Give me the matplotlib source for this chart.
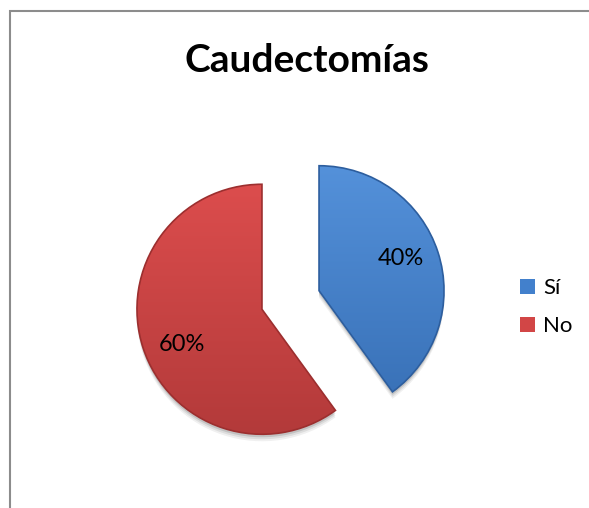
import numpy as np
import matplotlib
matplotlib.use("Agg")
import matplotlib.pyplot as plt
from matplotlib.patches import Rectangle, Wedge
from matplotlib.colors import LinearSegmentedColormap

# data
labels = ["Sí", "No"]
values = [40, 60]
colors = ["#4280cc", "#d24646"]
edge_colors = ["#2d5e9e", "#9c2f2f"]
grad_colors = [("#5491da", "#376fb5"), ("#dc4d4d", "#b33a3a")]

fig = plt.figure(figsize=(5.89, 5.08), dpi=100)
ax = fig.add_axes([0, 0, 1, 1])

# chart area border
fig.patches.append(Rectangle((10 / 589, -0.1), 1.2, (508 - 11) / 508 + 0.1,
                             transform=fig.transFigure, fill=False,
                             edgecolor="#8c8c8c", linewidth=1.5))

wedges, texts, autotexts = ax.pie(
    values, colors=colors, startangle=90, counterclock=False,
    center=(290.5, 208), radius=125, explode=[30, 30],
    autopct="%d%%", pctdistance=0.68,
    wedgeprops=dict(edgecolor="none"),
    textprops=dict(fontsize=17, family="Lato", color="black"),
    frame=True)

# soft shadow below the slices and gradient fill
for w, ec, (c1, c2) in zip(wedges, edge_colors, grad_colors):
    cx, cy = w.center
    for k, a in zip([7, 5, 3], [0.06, 0.08, 0.12]):
        sh = Wedge((cx, cy - k), w.r, w.theta1, w.theta2,
                   facecolor="black", alpha=a, edgecolor="none", zorder=0)
        ax.add_patch(sh)
    cmap = LinearSegmentedColormap.from_list("g", [c2, c1])
    grad = np.linspace(0, 1, 256).reshape(-1, 1)
    im = ax.imshow(grad, cmap=cmap, origin="lower", aspect="auto",
                   extent=(cx - w.r, cx + w.r, cy - w.r, cy + w.r), zorder=1)
    im.set_clip_path(w)
    w.set_zorder(1)
    edge = Wedge((cx, cy), w.r, w.theta1, w.theta2, facecolor="none",
                 edgecolor=ec, linewidth=1.2, zorder=2)
    ax.add_patch(edge)

# nudge the percentage labels like the original
for t, dy in zip(autotexts, [6, -9]):
    x, y = t.get_position()
    t.set_position((x + 1, y + dy))
    t.set_zorder(5)

ax.set_xlim(0, 589)
ax.set_ylim(0, 508)
ax.set_aspect("equal")
ax.axis("off")

fig.text(307 / 589, 1 - 60 / 508, "Caudectomías", ha="center", va="center",
         fontsize=28, fontweight="bold", family="Lato")

ax.legend(wedges, labels, loc="center left",
          bbox_to_anchor=(520 / 589, 1 - 307 / 508),
          frameon=False, prop=dict(family="Lato", size=16),
          handlelength=0.66, handleheight=0.66, handletextpad=0.38,
          labelspacing=0.8, borderpad=0, borderaxespad=0)

fig.savefig("out.png", dpi=100)
